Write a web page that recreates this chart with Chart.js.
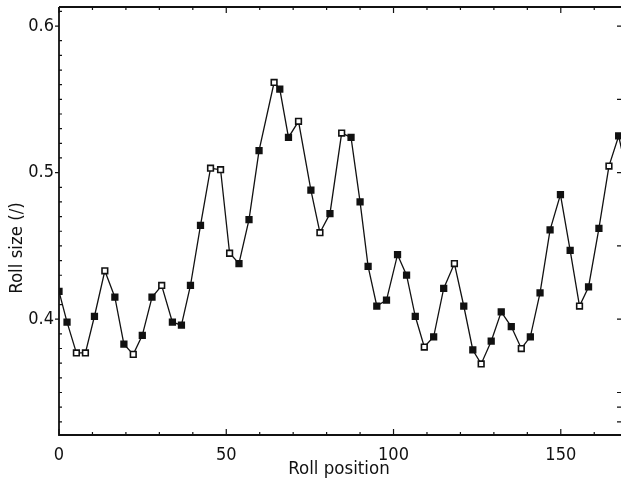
<!DOCTYPE html>
<html>
<head>
<meta charset="utf-8">
<script src="https://cdn.jsdelivr.net/npm/chart.js@4/dist/chart.umd.min.js"></script>
<style>
  html, body { margin: 0; padding: 0; background: #fff; }
  #wrap { width: 621px; height: 484px; }
</style>
</head>
<body>
<div id="wrap"><canvas id="rollChart" width="621" height="484"></canvas></div>
<script>
// roll positions and roll sizes
const rollPos = [0, 2.4, 5.2, 7.9, 10.6, 13.7, 16.7, 19.4, 22.2, 24.9, 27.8, 30.7, 33.9, 36.6, 39.3,
  42.3, 45.3, 48.3, 51.0, 53.8, 56.8, 59.8, 64.3, 66.0, 68.6, 71.6, 75.3, 78.0, 81.0, 84.5,
  87.3, 90.0, 92.4, 95.0, 97.9, 101.2, 103.9, 106.5, 109.2, 112.0, 115.0, 118.2, 121.0, 123.7, 126.2,
  129.2, 132.2, 135.2, 138.2, 140.9, 143.8, 146.8, 149.9, 152.8, 155.6, 158.3, 161.4, 164.4, 167.3, 170.2];
const rollSize = [0.419, 0.398, 0.377, 0.377, 0.402, 0.433, 0.415, 0.383, 0.376, 0.389, 0.415, 0.423, 0.398, 0.396, 0.423,
  0.464, 0.503, 0.502, 0.445, 0.438, 0.468, 0.515, 0.5615, 0.557, 0.524, 0.535, 0.488, 0.459, 0.472, 0.527,
  0.524, 0.480, 0.436, 0.409, 0.413, 0.444, 0.430, 0.402, 0.381, 0.388, 0.421, 0.438, 0.409, 0.379, 0.3695,
  0.385, 0.405, 0.395, 0.380, 0.388, 0.418, 0.461, 0.485, 0.447, 0.409, 0.422, 0.462, 0.5045, 0.525, 0.495];
// points drawn as hollow squares
const openPoints = [2, 3, 5, 8, 11, 16, 17, 18, 22, 25, 27, 29, 38, 41, 44, 48, 54, 57];

const xTicks = [0, 50, 100, 150];
const yTicks = [0.4, 0.5, 0.6];

const FONT = "'Liberation Sans Narrow', 'DejaVu Sans Condensed', 'Liberation Sans', sans-serif";

const points = rollPos.map((x, i) => ({ x: x, y: rollSize[i] }));

// frame, inward minor ticks and axis titles
const framePlugin = {
  id: "frame",
  afterDraw(chart) {
    const { ctx, chartArea: a, scales } = chart;
    const xs = scales.x, ys = scales.y;
    ctx.save();
    ctx.strokeStyle = "#111";
    ctx.lineWidth = 1.8;
    ctx.beginPath();
    ctx.moveTo(a.left, a.top);
    ctx.lineTo(a.right, a.top);
    ctx.moveTo(a.left, a.top);
    ctx.lineTo(a.left, a.bottom);
    ctx.lineTo(a.right, a.bottom);
    ctx.stroke();

    ctx.lineWidth = 1.2;
    ctx.beginPath();
    for (let v = 0; v <= 168; v += 10) {
      const px = xs.getPixelForValue(v);
      const len = v % 50 === 0 ? 6 : 3;
      ctx.moveTo(px, a.bottom);
      ctx.lineTo(px, a.bottom - len);
      ctx.moveTo(px, a.top);
      ctx.lineTo(px, a.top + len);
    }
    for (let k = 33; k <= 61; k++) {
      const py = ys.getPixelForValue(k / 100);
      if (k % 10 === 0) {
        ctx.moveTo(a.left - 4, py);
        ctx.lineTo(a.left, py);
      } else {
        ctx.moveTo(a.left, py);
        ctx.lineTo(a.left + 3, py);
      }
      if (k % 5 === 0 || k < 36) {
        ctx.moveTo(a.right, py);
        ctx.lineTo(a.right - 4, py);
      }
    }
    ctx.stroke();

    ctx.fillStyle = "#111";
    ctx.font = "18.5px " + FONT;
    ctx.textAlign = "center";
    ctx.textBaseline = "middle";
    ctx.fillText("Roll position", 339, 469);
    ctx.translate(17, 248);
    ctx.rotate(-Math.PI / 2);
    ctx.fillText("Roll size (/)", 0, 0);
    ctx.restore();
  }
};

new Chart(document.getElementById("rollChart").getContext("2d"), {
  type: "scatter",
  data: {
    datasets: [{
      data: points,
      showLine: true,
      borderColor: "#111",
      borderWidth: 1.3,
      tension: 0,
      pointStyle: "rect",
      pointRadius: 4,
      pointBorderWidth: 1.6,
      pointBorderColor: "#111",
      pointBackgroundColor: (c) => openPoints.includes(c.dataIndex) ? "#fff" : "#111",
      pointHoverRadius: 4
    }]
  },
  options: {
    responsive: false,
    animation: false,
    layout: { autoPadding: false, padding: { top: 7, right: 0, left: 0, bottom: 0 } },
    plugins: { legend: { display: false }, tooltip: { enabled: false } },
    scales: {
      x: {
        type: "linear",
        min: 0,
        max: 168,
        afterBuildTicks: (s) => { s.ticks = xTicks.map(v => ({ value: v })); },
        afterFit: (s) => { s.height = 49; s.paddingLeft = 0; s.paddingRight = 0; },
        grid: { display: false },
        border: { display: false },
        ticks: { color: "#111", font: { family: FONT, size: 18 }, padding: 2, maxRotation: 0 }
      },
      y: {
        type: "linear",
        min: 0.321,
        max: 0.613,
        afterBuildTicks: (s) => { s.ticks = yTicks.map(v => ({ value: v })); },
        afterFit: (s) => { s.width = 59; s.paddingTop = 0; s.paddingBottom = 0; },
        grid: { display: false, drawTicks: false },
        border: { display: false },
        ticks: { color: "#111", font: { family: FONT, size: 18 }, padding: 5,
          callback: (v) => v.toFixed(1) }
      }
    }
  },
  plugins: [framePlugin]
});
</script>
</body>
</html>
